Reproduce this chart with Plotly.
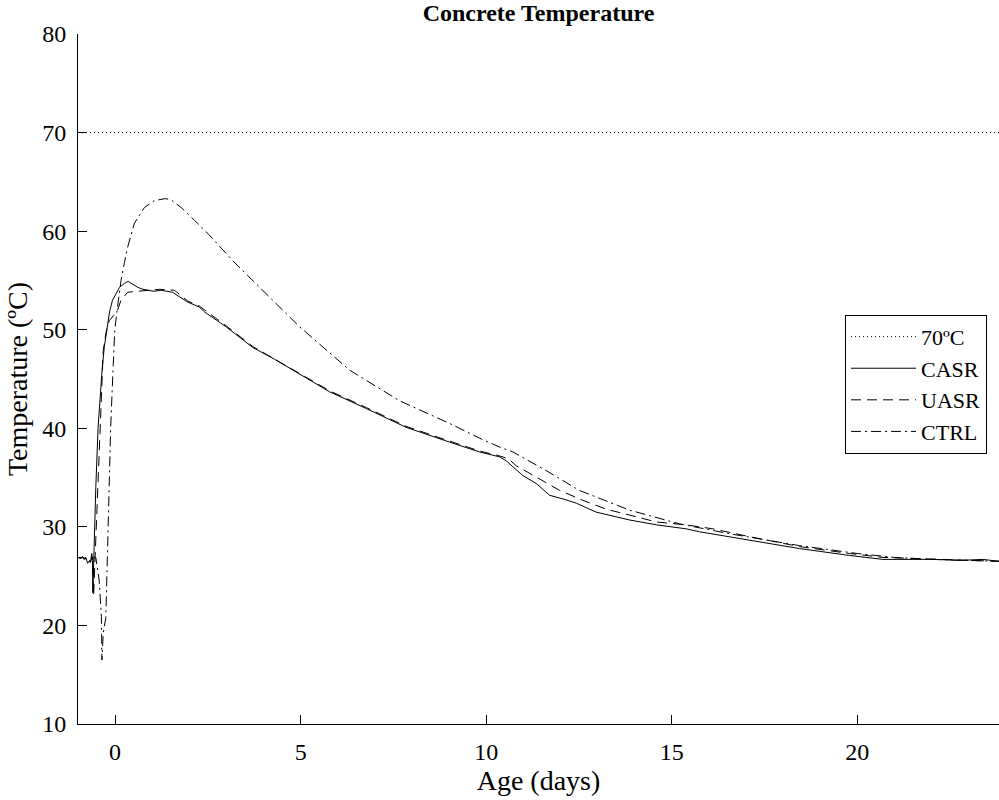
import plotly.graph_objects as go

# ---- data ----
limit_x = [-1.0, 23.85]
limit_y = [70, 70]

casr_x = [-1.0, -0.93, -0.88, -0.84, -0.79, -0.74, -0.70, -0.66, -0.63, -0.61, -0.60, -0.57, -0.52, -0.46,
          -0.40, -0.35, -0.29, -0.23, -0.15, -0.07, 0.0, 0.12, 0.25, 0.35, 0.48, 0.61, 0.75, 0.88, 1.05,
          1.24, 1.40, 1.55, 1.75, 1.96, 2.27, 2.41, 2.99, 3.71, 4.3, 4.88, 5.78, 6.77, 7.84, 9.01, 9.82,
          10.36, 10.54, 10.72, 10.99, 11.35, 11.71, 12.1, 12.43, 12.96, 13.86, 14.6, 15.39, 15.75, 16.56,
          17.1, 18.44, 19.79, 20.69, 21.5, 22.04, 22.8, 23.39, 23.6, 23.85]
casr_y = [26.9, 26.8, 27.0, 26.8, 26.9, 26.3, 26.5, 26.4, 27.3, 26.6, 23.3, 28.6, 34.0, 40.0,
          43.5, 46.0, 48.3, 50.0, 51.8, 53.0, 53.5, 54.3, 54.7, 54.9, 54.6, 54.3, 54.1, 54.0, 53.9,
          54.0, 53.9, 53.8, 53.3, 52.8, 52.3, 51.8, 50.3, 48.2, 47.0, 45.7, 43.7, 42.0, 40.1, 38.6, 37.6,
          37.1, 36.7, 36.1, 35.2, 34.4, 33.2, 32.8, 32.4, 31.5, 30.7, 30.2, 29.8, 29.5, 29.0,
          28.6, 27.8, 27.1, 26.7, 26.7, 26.7, 26.6, 26.7, 26.6, 26.5]

uasr_x = [-1.0, -0.93, -0.88, -0.84, -0.79, -0.74, -0.70, -0.66, -0.62, -0.58, -0.52, -0.47, -0.40,
          -0.32, -0.24, -0.16, -0.05, 0.04, 0.16, 0.34, 0.6, 1.0, 1.2, 1.6, 1.96, 2.27, 2.99, 3.71,
          4.88, 5.78, 6.77, 7.84, 9.01, 9.82, 10.36, 10.6, 10.81, 11.44, 11.98, 12.6, 13.23, 13.86,
          14.58, 15.39, 16.11, 17.1, 18.44, 19.79, 20.69, 21.5, 22.5, 23.4, 23.85]
uasr_y = [26.9, 26.9, 26.9, 26.7, 26.8, 26.4, 26.6, 26.5, 27.0, 23.0, 28.6, 35.0, 40.0,
          47.9, 49.8, 50.9, 51.4, 51.7, 53.0, 53.8, 53.9, 54.0, 54.1, 54.0, 52.9, 52.4, 50.4, 48.3,
          45.8, 43.8, 42.1, 40.2, 38.7, 37.7, 37.2, 36.9, 36.2, 34.9, 33.7, 32.7, 31.8, 31.2,
          30.5, 30.2, 29.8, 29.0, 28.0, 27.3, 26.9, 26.8, 26.7, 26.6, 26.5]

ctrl_x = [-1.0, -0.93, -0.88, -0.84, -0.79, -0.74, -0.70, -0.66, -0.62, -0.52, -0.43, -0.39, -0.37,
          -0.355, -0.32, -0.25, -0.19, -0.12, -0.05, -0.01, 0.04, 0.10, 0.16, 0.25, 0.34, 0.52, 0.79,
          1.06, 1.35, 1.5, 1.78, 2.14, 2.54, 3.17, 4.07, 4.97, 6.32, 7.66, 9.01, 9.82, 10.36, 10.72,
          11.62, 12.51, 13.86, 15.21, 16.56, 18.44, 20.0, 21.0, 22.0, 23.0, 23.85]
ctrl_y = [26.9, 26.8, 26.9, 26.8, 26.8, 26.4, 26.5, 26.5, 26.8, 26.9, 24.6, 22.5, 20.9,
          16.5, 19.2, 20.8, 30.3, 40.0, 46.5, 49.9, 51.6, 53.5, 55.0, 56.8, 58.4, 60.8, 62.4,
          63.1, 63.3, 63.2, 62.4, 61.1, 59.6, 57.0, 53.6, 50.3, 45.9, 42.8, 40.5, 39.0, 38.1, 37.6,
          35.7, 33.7, 31.7, 30.3, 29.3, 28.1, 27.3, 26.9, 26.7, 26.6, 26.5]

x_ticks = [0, 5, 10, 15, 20]
y_ticks = [10, 20, 30, 40, 50, 60, 70, 80]

FONT = "Liberation Serif, Times New Roman, serif"

fig = go.Figure()
fig.add_trace(go.Scatter(x=limit_x, y=limit_y, mode="lines", name="70ºC",
                         line=dict(color="black", width=1, dash="1px,3px")))
fig.add_trace(go.Scatter(x=casr_x, y=casr_y, mode="lines", name="CASR",
                         line=dict(color="black", width=1)))
fig.add_trace(go.Scatter(x=uasr_x, y=uasr_y, mode="lines", name="UASR",
                         line=dict(color="black", width=1, dash="10px,6px")))
fig.add_trace(go.Scatter(x=ctrl_x, y=ctrl_y, mode="lines", name="CTRL",
                         line=dict(color="black", width=1, dash="10px,4px,2px,4px")))

fig.update_layout(
    width=999, height=800,
    margin=dict(l=78, r=0, t=34, b=76),
    paper_bgcolor="white", plot_bgcolor="white",
    font=dict(family=FONT, size=24, color="black"),
    title=dict(text="<b>Concrete Temperature</b>", x=0.5, xanchor="center",
               xref="paper", yref="container", y=0.984, yanchor="middle",
               font=dict(family=FONT, size=24, color="black")),
    xaxis=dict(range=[-1.0, 23.82], tickmode="array", tickvals=x_ticks,
               ticks="inside", ticklen=9, tickcolor="black", tickwidth=1,
               showline=True, linecolor="black", linewidth=1, mirror=False,
               showgrid=False, zeroline=False, ticklabelstandoff=6,
               title=dict(text="Age (days)", standoff=4, font=dict(size=28)),
               tickfont=dict(size=24)),
    yaxis=dict(range=[10, 80], tickmode="array", tickvals=y_ticks,
               ticks="inside", ticklen=9, tickcolor="black", tickwidth=1,
               showline=True, linecolor="black", linewidth=1, mirror=False,
               showgrid=False, zeroline=False, ticklabelstandoff=6,
               title=dict(text="Temperature (ºC)", standoff=6, font=dict(size=28)),
               tickfont=dict(size=24)),
    legend=dict(x=0.987, xanchor="right", y=0.593, yanchor="top",
                bgcolor="white", bordercolor="black", borderwidth=1,
                itemwidth=65,
                font=dict(family=FONT, size=22), tracegroupgap=0),
    showlegend=True,
)

fig.write_html("out.html")
